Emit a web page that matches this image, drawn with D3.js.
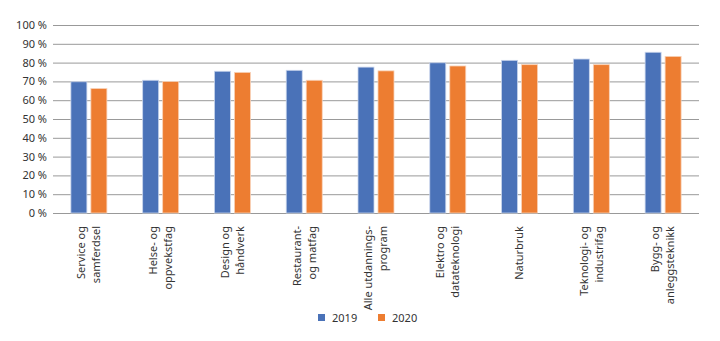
<!DOCTYPE html>
<html><head><meta charset="utf-8">
<script src="https://cdn.jsdelivr.net/npm/d3@7"></script>
<style>body{margin:0;background:#fff}svg{display:block}text{font-family:"Noto Sans",sans-serif;fill:#333}</style>
</head><body><svg id="c" width="720" height="341"></svg>
<script>
const categories = [["Service og","samferdsel"],["Helse- og","oppvekstfag"],["Design og","håndverk"],["Restaurant-","og matfag"],["Alle utdannings-","program"],["Elektro og","datateknologi"],["Naturbruk"],["Teknologi- og","industrifag"],["Bygg- og","anleggsteknikk"]];
const series = ["2019","2020"];
const values2019 = [69.8, 70.6, 75.4, 75.9, 77.6, 79.9, 81.2, 81.9, 85.5];
const values2020 = [66.2, 69.9, 74.8, 70.6, 75.6, 78.2, 78.9, 78.9, 83.3];
const yTicks = [0,10,20,30,40,50,60,70,80,90,100];
const colors = ["#4a72b8","#ed7d31"];

const svg = d3.select("#c");
const m = {l:53, r:699, t:25, b:213};
const x = d3.scaleBand().domain(d3.range(categories.length)).range([m.l, m.r]).paddingInner(0).paddingOuter(0);
const y = d3.scaleLinear().domain([0,100]).range([m.b, m.t]);
const bw = 16, gap = 4;

const yAxis = d3.axisLeft(y).tickValues(yTicks).tickFormat(d => d + " %").tickSize(-(m.r - m.l)).tickPadding(6);
const ga = svg.append("g").attr("transform", `translate(${m.l},0)`).call(yAxis);
ga.select(".domain").remove();
ga.selectAll(".tick line").attr("stroke", "#999").attr("stroke-width", 1);
ga.selectAll(".tick text").attr("font-size", 11).attr("fill", "#333").style("font-family", '"Noto Sans",sans-serif');

const data = [values2019, values2020];
data.forEach((vals, si) => {
  svg.append("g").selectAll("rect").data(vals).join("rect")
    .attr("x", (d,i) => x(i) + x.bandwidth()/2 - bw - gap/2 + si*(bw+gap))
    .attr("y", d => y(d))
    .attr("width", bw)
    .attr("height", d => y(0) - y(d))
    .attr("fill", colors[si])
    .attr("stroke", si === 0 ? "#c9d5ec" : "#f8d2b8")
    .attr("stroke-width", 0.8);
});

// x labels
const lh = 15;
categories.forEach((lines, i) => {
  const cx = x(i) + x.bandwidth()/2;
  const g = svg.append("g").attr("transform", `translate(${cx},226) rotate(-90)`);
  const n = lines.length;
  lines.forEach((t, j) => {
    g.append("text").attr("x", 0).attr("y", (j - (n-1)/2) * lh)
      .attr("dy", "0.35em").attr("text-anchor", "end").attr("font-size", 11).text(t);
  });
});

// legend
const leg = [{x:318, t:"2019"},{x:378, t:"2020"}];
leg.forEach((l, i) => {
  svg.append("rect").attr("x", l.x).attr("y", 314).attr("width", 7).attr("height", 7).attr("fill", colors[i]);
  svg.append("text").attr("x", l.x + 14).attr("y", 318).attr("dy", "0.35em").attr("font-size", 11).text(series[i]);
});
</script></body></html>
